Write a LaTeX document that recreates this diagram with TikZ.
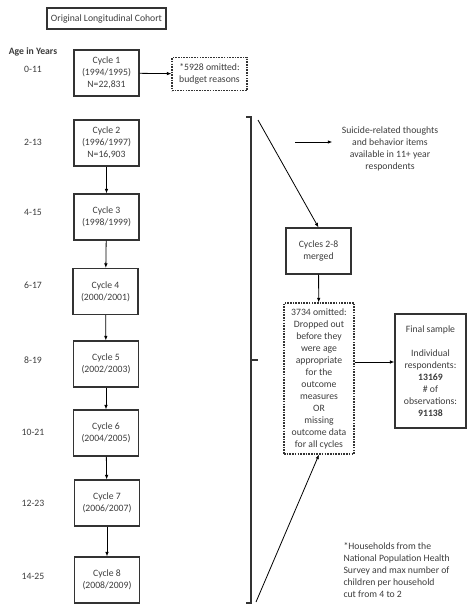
\documentclass[tikz,border=0pt]{standalone}
\usepackage{fontspec}
\setmainfont{Carlito}
\usetikzlibrary{arrows.meta}
\definecolor{linegray}{HTML}{333333}
\definecolor{textgray}{HTML}{3C3C3C}
\tikzset{
  every node/.style={font=\fontsize{9.7}{12}\selectfont, text=textgray},
  cyclebox/.style={draw=linegray, line width=1.1pt, minimum width=65pt, minimum height=46pt, align=center, inner sep=1pt},
  omitbox/.style={draw=linegray, line width=1.1pt, dash pattern=on 1.6pt off 1.1pt, align=center, inner sep=1pt},
  agelabel/.style={anchor=center},
  arr/.style={draw=black, line width=0.8pt, -{Latex[length=4.5pt,width=3.5pt]}},
}
\begin{document}
\begin{tikzpicture}[x=1pt, y=-1pt]
  \useasboundingbox (0,0) rectangle (474,613);

  \node[draw=linegray, line width=1.1pt, minimum width=119pt, minimum height=21pt, inner sep=1pt] (cohort) at (106.5,18.5) {Original Longitudinal Cohort};
  \node[font=\fontsize{9.7}{12}\selectfont\bfseries] (agehead) at (33,52) {Age in Years};

  % cycles with the ages
  \node[cyclebox] (c1) at (106.5,73) {Cycle 1\\(1994/1995)\\N=22,831};
  \node[cyclebox] (c2) at (106.5,143) {Cycle 2\\(1996/1997)\\N=16,903};
  \node[cyclebox] (c3) at (106.5,217) {Cycle 3\\(1998/1999)};
  \node[cyclebox] (c4) at (105.5,291.5) {Cycle 4\\(2000/2001)};
  \node[cyclebox] (c5) at (106,364) {Cycle 5\\(2002/2003)};
  \node[cyclebox] (c6) at (106,433) {Cycle 6\\(2004/2005)};
  \node[cyclebox] (c7) at (107,503) {Cycle 7\\(2006/2007)};
  \node[cyclebox] (c8) at (107,580) {Cycle 8\\(2008/2009)};

  \node[agelabel] (a1) at (33,69) {0-11};
  \node[agelabel] (a2) at (33,142) {2-13};
  \node[agelabel] (a3) at (33,212) {4-15};
  \node[agelabel] (a4) at (33,285) {6-17};
  \node[agelabel] (a5) at (33,360) {8-19};
  \node[agelabel] (a6) at (33,432) {10-21};
  \node[agelabel] (a7) at (33,503) {12-23};
  \node[agelabel] (a8) at (33,576) {14-25};

  \node[omitbox, minimum width=75pt, minimum height=33pt] (budget) at (209.5,74) {*5928 omitted:\\budget reasons};

  \draw[arr] (c1) -- (budget);
  \draw[arr] (c2) -- (c3);
  \draw[arr] (c3) -- (c4);
  \draw[arr] (c4) -- (c5);
  \draw[arr] (c5) -- (c6);
  \draw[arr] (c6) -- (c7);
  \draw[arr] (c7) -- (c8);

  % bracket round cycles 2-8
  \draw[linegray, line width=1.1pt] (246,117) -- (251,117) -- (251,603) -- (246,603);
  \draw[linegray, line width=1.1pt] (251,360) -- (258,360);
  \coordinate (brtop) at (258,120);
  \coordinate (brbot) at (256,602);

  \node[align=center] (suicide) at (390,149) {Suicide-related thoughts\\and behavior items\\available in 11+ year\\respondents};
  \coordinate (sa) at (295,142);
  \draw[arr] (sa) -- ([xshift=-6pt]suicide.west |- sa);

  \node[cyclebox] (merged) at (318.5,251) {Cycles 2-8\\merged};
  \node[omitbox, minimum width=70pt, minimum height=151pt] (dropped) at (319,378.5) {3734 omitted:\\Dropped out\\before they\\were age\\appropriate\\for the\\outcome\\measures\\OR\\missing\\outcome data\\for all cycles};
  \node[cyclebox, minimum width=71pt, minimum height=114pt] (final) at (430.5,371) {Final sample\\[12pt]Individual\\respondents:\\\textbf{13169}\\\# of\\observations:\\\textbf{91138}};

  \draw[arr] (brtop) -- (merged.north);
  \draw[arr] (merged) -- (dropped);
  \draw[arr] (dropped.east |- 0,362) -- (final.west |- 0,362);
  \draw[arr] (brbot) -- (dropped.south);

  \node[anchor=north west, align=left] (note) at (340,539) {*Households from the\\National Population Health\\Survey and max number of\\children per household\\cut from 4 to 2};
\end{tikzpicture}
\end{document}
